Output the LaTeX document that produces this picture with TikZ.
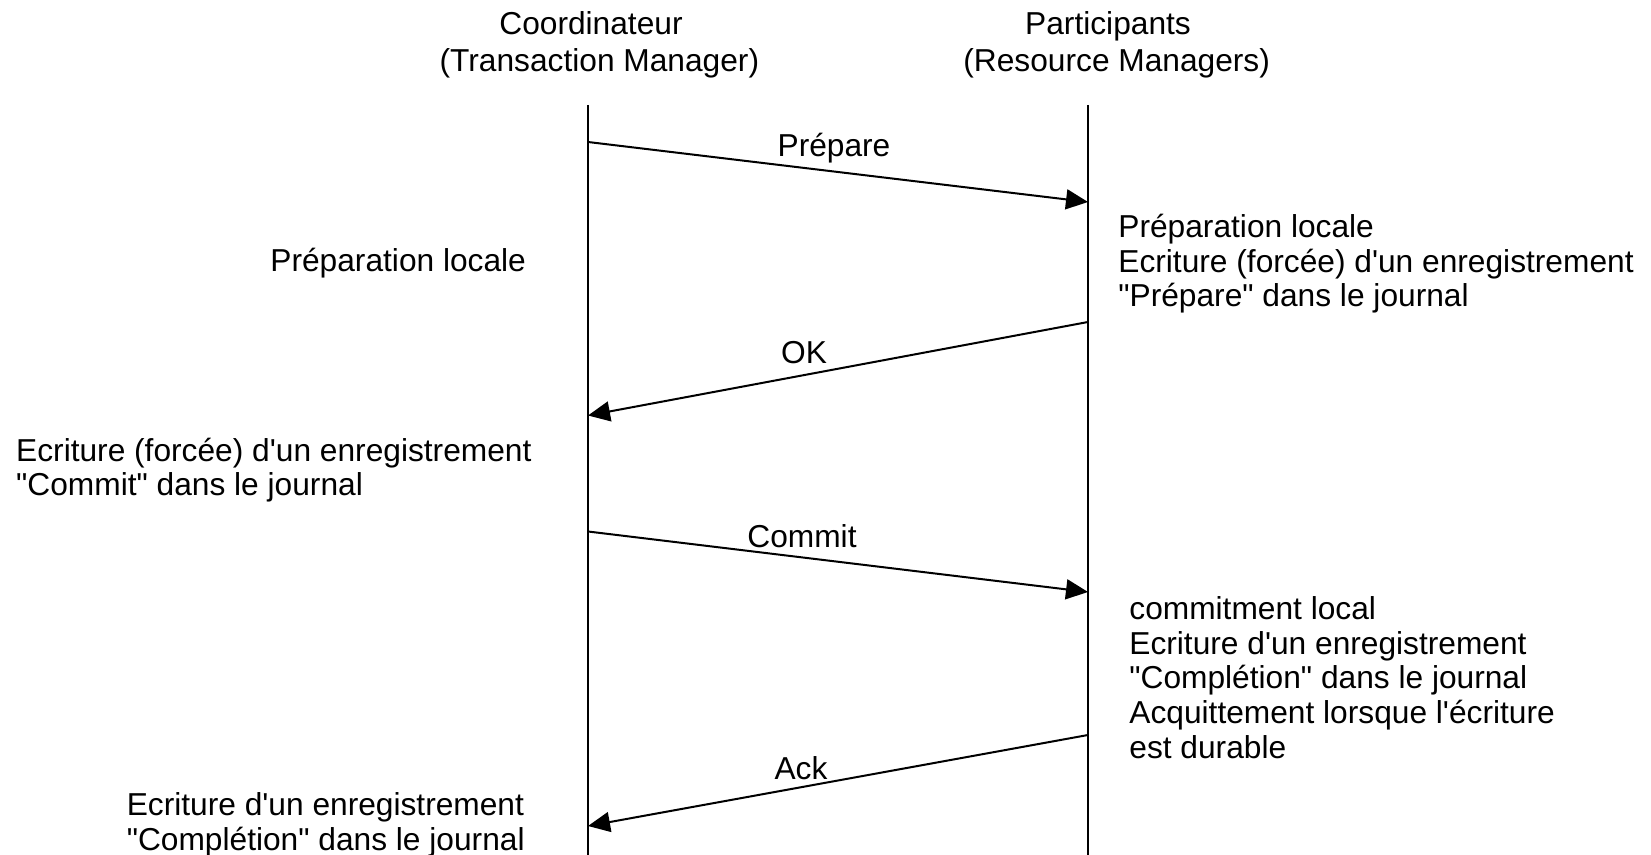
\documentclass[tikz,border=0pt]{standalone}
\usepackage{fontspec}
\setmainfont{Liberation Sans}[Ligatures=TeXOff]
\usetikzlibrary{arrows.meta}
\begin{document}
\begin{tikzpicture}[x=0.5pt,y=-0.5pt,
  lifeline/.style={line width=1pt},
  msg/.style={line width=1pt,-{Triangle[length=11pt,width=10pt]}},
  txt/.style={font=\fontsize{15.85}{17.3}\selectfont, inner sep=0pt, align=left, anchor=west},
  lbl/.style={font=\fontsize{15.85}{17.3}\selectfont, inner sep=0pt, anchor=base}]
\useasboundingbox (0,0) rectangle (1651,855);

% headers
\node[lbl] (coord1) at (591,35) {Coordinateur};
\node[lbl] (coord2) at (599.4,72) {(Transaction Manager)};
\node[lbl] (part1) at (1108,35) {Participants};
\node[lbl] (part2) at (1116.7,72) {(Resource Managers)};

% lifelines
\coordinate (Ltop) at (588,105);
\coordinate (Lbot) at (588,855);
\coordinate (Rtop) at (1088,105);
\coordinate (Rbot) at (1088,855);
\draw[lifeline] (Ltop) -- (Lbot);
\draw[lifeline] (Rtop) -- (Rbot);

% message end points
\coordinate (a1) at (588,142);
\coordinate (a2) at (1088,202);
\coordinate (b1) at (1088,322);
\coordinate (b2) at (588,415.5);
\coordinate (c1) at (588,531.5);
\coordinate (c2) at (1088,592);
\coordinate (d1) at (1088,735);
\coordinate (d2) at (588,826);

\draw[msg] (a1) -- (a2);
\draw[msg] (b1) -- (b2);
\draw[msg] (c1) -- (c2);
\draw[msg] (d1) -- (d2);

% message labels
\node[lbl] (lprep) at (834,157) {Prépare};
\node[lbl] (lok) at (804,364) {OK};
\node[lbl] (lcommit) at (802,548) {Commit};
\node[lbl] (lack) at (801,779) {Ack};

% left annotations
\node[txt] (tl1) at (270,263.2) {Préparation locale};
\node[txt] (tl2) at (15.8,470) {Ecriture (forcée) d'un enregistrement\\"Commit" dans le journal};
\node[txt] (tl3) at (126.4,825) {Ecriture d'un enregistrement\\"Complétion" dans le journal};

% right annotations
\node[txt] (tr1) at (1118,264) {Préparation locale\\Ecriture (forcée) d'un enregistrement\\"Prépare" dans le journal};
\node[txt] (tr2) at (1129,677.5) {commitment local\\Ecriture d'un enregistrement\\"Complétion" dans le journal\\Acquittement lorsque l'écriture\\est durable};
\end{tikzpicture}
\end{document}
